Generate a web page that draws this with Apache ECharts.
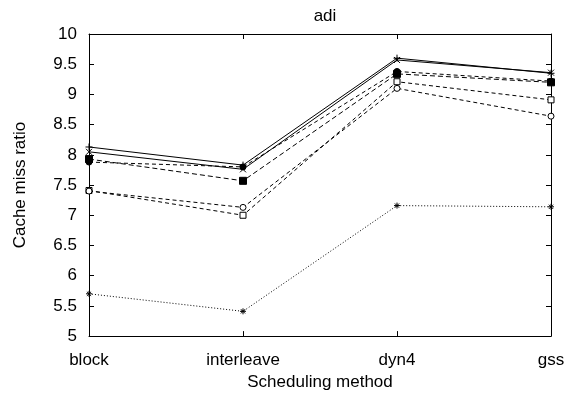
<!DOCTYPE html>
<html>
<head>
<meta charset="utf-8">
<script src="https://cdn.jsdelivr.net/npm/echarts@6/dist/echarts.min.js"></script>
<style>
	html, body { margin: 0; padding: 0; background: #fff; }
	#chart { width: 570px; height: 396px; }
</style>
</head>
<body>
<div id="chart"></div>
<script>
// 横轴分类
const categories = ["block", "interleave", "dyn4", "gss"];

// 各曲线数据
const solidPlus = [8.13, 7.83, 9.60, 9.35];
const solidCross = [8.05, 7.76, 9.57, 9.36];
const dashFilledSquare = [7.93, 7.57, 9.34, 9.20];
const dashFilledCircle = [7.88, 7.80, 9.38, 9.22];
const dashOpenSquare = [7.41, 7.00, 9.21, 8.91];
const dashOpenCircle = [7.40, 7.13, 9.10, 8.64];
const dotStar = [5.70, 5.41, 7.16, 7.14];

const yMin = 5;
const yMax = 10;
const yStep = 0.5;

const FONT = "Liberation Sans";
const FS = 17;

// 线形符号（只描边）
const plusPath = "path://M5,0L5,10M0,5L10,5";
const crossPath = "path://M0,0L10,10M10,0L0,10";
const starPath = "path://M5,0L5,10M0,5L10,5M1.5,1.5L8.5,8.5M8.5,1.5L1.5,8.5";

function makeSeries(name, data, lineType, symbol, size, filled) {
	return {
		name: name,
		type: "line",
		data: data,
		symbol: symbol,
		symbolSize: size,
		showSymbol: true,
		lineStyle: { color: "#000", width: 1, type: lineType },
		itemStyle: {
			color: filled ? "#000" : "#fff",
			borderColor: "#000",
			borderWidth: 1,
		},
		emphasis: { disabled: true },
		z: 3,
	};
}

let myChart = echarts.init(document.getElementById("chart"));
let axisLine = { show: true, lineStyle: { color: "#000", width: 1 } };
let tick = { show: true, inside: true, length: 5, lineStyle: { color: "#000" } };
let option = {
	animation: false,
	backgroundColor: "#fff",
	textStyle: { fontFamily: FONT },
	title: {
		text: "adi",
		left: 320,
		textAlign: "center",
		top: 3,
		textStyle: { fontFamily: FONT, fontSize: FS, fontWeight: "normal", color: "#000" },
	},
	grid: { left: 89, right: 19, top: 34, bottom: 48, containLabel: false },
	xAxis: [
		{
			type: "category",
			data: categories,
			boundaryGap: false,
			position: "bottom",
			name: "Scheduling method",
			nameLocation: "middle",
			nameGap: 28,
			nameTextStyle: { fontFamily: FONT, fontSize: FS, color: "#000" },
			axisLine: axisLine,
			axisTick: tick,
			axisLabel: { fontFamily: FONT, fontSize: FS, color: "#000", margin: 16 },
			splitLine: { show: false },
		},
		{
			type: "category",
			data: categories,
			boundaryGap: false,
			position: "top",
			axisLine: axisLine,
			axisTick: tick,
			axisLabel: { show: false },
			splitLine: { show: false },
		},
	],
	yAxis: [
		{
			type: "value",
			min: yMin,
			max: yMax,
			interval: yStep,
			position: "left",
			name: "Cache miss ratio",
			nameLocation: "middle",
			nameGap: 60,
			nameRotate: 90,
			nameTextStyle: { fontFamily: FONT, fontSize: FS, color: "#000" },
			axisLine: axisLine,
			axisTick: tick,
			axisLabel: { fontFamily: FONT, fontSize: FS, color: "#000", margin: 12 },
			splitLine: { show: false },
		},
		{
			type: "value",
			min: yMin,
			max: yMax,
			interval: yStep,
			position: "right",
			axisLine: axisLine,
			axisTick: tick,
			axisLabel: { show: false },
			splitLine: { show: false },
		},
	],
	series: [
		makeSeries("s1", solidPlus, "solid", plusPath, 7, false),
		makeSeries("s2", solidCross, "solid", crossPath, 6, false),
		makeSeries("s3", dashFilledSquare, [5, 3], "rect", 7, true),
		makeSeries("s4", dashFilledCircle, [4, 3], "circle", 6, true),
		makeSeries("s5", dashOpenSquare, [4, 3], "rect", 6, false),
		makeSeries("s6", dashOpenCircle, [4, 3], "circle", 6, false),
		makeSeries("s7", dotStar, [1, 2], starPath, 6, false),
	],
};
myChart.setOption(option);
</script>
</body>
</html>
